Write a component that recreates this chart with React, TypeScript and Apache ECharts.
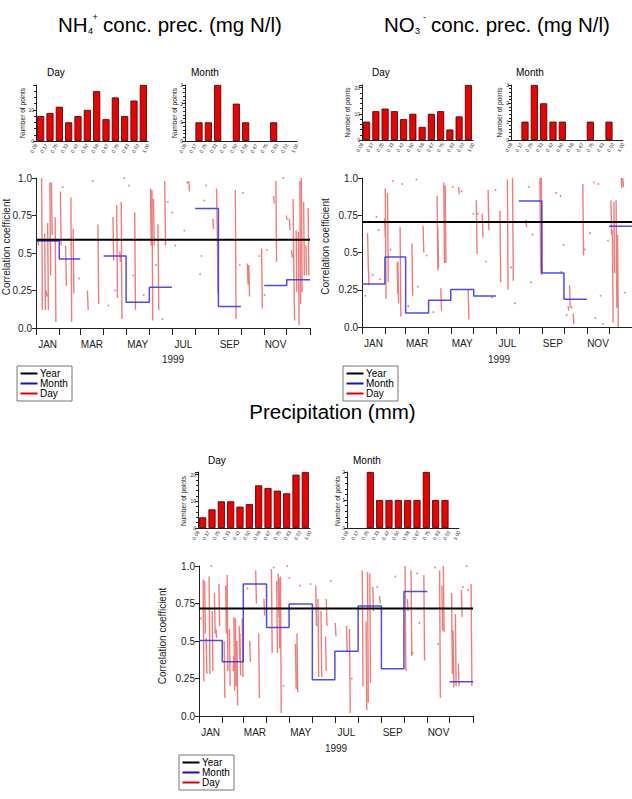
import React, { useEffect, useRef } from "react";
import * as echarts from "echarts";

// ---------- data ----------
const binLabels = ["0.08", "0.17", "0.25", "0.33", "0.42", "0.50", "0.58", "0.67", "0.75", "0.83", "0.92", "1.00"];
const monthNames = ["JAN", "FEB", "MAR", "APR", "MAY", "JUN", "JUL", "AUG", "SEP", "OCT", "NOV", "DEC"];
const monthStarts = [0, 31, 59, 90, 120, 151, 181, 212, 243, 273, 304, 334, 365];

const nh4DayHist = [8, 9, 11, 6, 8, 10, 16, 7, 14, 8, 13, 18];
const nh4MonthHist = [0, 1, 1, 3, 0, 2, 1, 0, 0, 1, 0, 0];
const no3DayHist = [7, 11, 12, 11, 8, 10, 5, 10, 11, 4, 9, 21];
const no3MonthHist = [0, 1, 3, 2, 1, 1, 0, 0, 1, 0, 1, 0];
const precDayHist = [4, 7, 10, 10, 8, 9, 16, 15, 14, 13, 20, 21];
const precMonthHist = [0, 0, 2, 1, 1, 1, 1, 1, 2, 1, 1, 0];

const nh4Year = 0.588;
const no3Year = 0.705;
const precYear = 0.717;

const nh4Month = [0.58, 0.46, null, 0.48, 0.172, 0.272, null, 0.797, 0.143, null, 0.283, 0.321];
const no3Month = [0.289, 0.47, 0.094, 0.18, 0.252, 0.208, null, 0.846, 0.362, 0.186, null, 0.676];
const precMonth = [0.503, 0.361, 0.88, 0.59, 0.747, 0.242, 0.432, 0.734, 0.315, 0.83, null, 0.228];

// daily runs: [firstDay, value, value, ...] consecutive days
const nh4DayRuns = [
  [2, 0.59, 0.55], [7, 1.0, 0.12], [11, 0.63, 0.12], [13, 0.25, 0.21], [15, 0.7, 0.12], [18, 0.97, 0.35],
  [20, 0.97, 0.62], [25, 0.74, 0.04], [32, 0.91, 0.55], [35, 0.94], [39, 0.55, 0.28], [46, 0.87, 0.04],
  [49, 0.66, 0.23], [57, 0.33], [68, 0.25, 0.12], [75, 0.98], [82, 0.69, 0.16], [96, 0.15], [102, 0.74, 0.45],
  [105, 0.25], [107, 0.82, 0.2], [111, 0.51, 0.44], [113, 0.84, 0.06], [117, 1.0], [123, 0.95], [129, 0.35],
  [131, 0.77, 0.12], [143, 0.22], [152, 0.93, 0.55], [154, 0.92, 0.05], [156, 0.86, 0.55], [159, 0.42],
  [162, 0.69, 0.12], [168, 0.06], [171, 0.98, 0.55], [175, 0.84], [181, 0.77], [185, 0.55], [197, 0.65],
  [201, 0.97], [203, 0.98, 0.91], [218, 0.36], [220, 0.48], [224, 0.85], [226, 0.95], [235, 0.73, 0.66],
  [240, 0.93, 0.63, 0.23], [265, 0.92, 0.06], [271, 0.42], [275, 0.9], [281, 0.43, 0.29], [283, 0.42, 0.21],
  [297, 0.48], [300, 0.53, 0.13], [304, 0.22], [307, 0.52], [316, 0.88, 0.83], [319, 0.98, 0.44], [329, 1.0],
  [333, 0.75, 0.72], [337, 0.73, 0.65], [340, 0.52, 0.47], [342, 0.86, 0.35, 0.05], [346, 0.65, 0.24],
  [349, 0.64, 0.02], [351, 0.98, 0.16], [353, 1.0, 0.24], [356, 0.84, 0.35], [359, 0.55, 0.35], [362, 0.8, 0.35],
];

const no3DayRuns = [
  [4, 0.21], [7, 0.63, 0.41, 0.28], [14, 0.35], [19, 0.74], [22, 0.65], [24, 0.32], [30, 0.73, 0.6],
  [31, 0.93, 0.19], [34, 0.9, 0.3], [38, 0.52], [41, 0.98], [47, 0.43, 0.22], [48, 0.44, 0.16], [51, 0.67, 0.07],
  [54, 0.96], [62, 0.14], [67, 0.56, 0.21], [73, 0.99], [75, 0.27], [82, 0.68, 0.5], [87, 0.48], [96, 0.1],
  [101, 0.88, 0.38], [102, 0.67, 0.4], [106, 0.26, 0.11], [110, 0.97, 0.43], [112, 0.95, 0.43], [122, 0.94],
  [130, 0.94, 0.89], [134, 0.91], [143, 0.25, 0.05], [150, 0.76], [154, 0.85, 0.49], [156, 0.76],
  [162, 0.76, 0.6], [167, 0.44], [170, 0.92, 0.65], [175, 0.2], [180, 0.92], [186, 0.78, 0.3], [196, 0.99, 0.25],
  [201, 0.4], [203, 1.0, 0.31], [206, 0.16], [221, 0.72, 0.67], [225, 0.94], [228, 0.3], [230, 0.62],
  [240, 1.0, 0.4, 0.35], [242, 1.0, 0.36], [262, 0.9], [268, 0.88], [269, 0.37], [272, 0.55], [276, 0.08],
  [278, 0.14, 0.11], [280, 0.28, 0.13], [283, 0.13], [285, 0.09, 0.02], [298, 0.96, 0.48], [301, 0.52],
  [308, 0.63], [313, 0.97], [315, 0.06], [319, 0.96], [322, 0.21], [325, 0.02], [332, 0.58], [336, 0.85, 0.62],
  [338, 0.65, 0.03], [340, 0.84, 0.36], [343, 0.85, 0.13], [345, 0.62, 0.0], [350, 1.0, 0.93], [352, 1.0, 0.94],
  [355, 0.23],
];

const precDayRuns = [
  [2, 0.65], [5, 0.91, 0.23], [7, 0.9, 0.55], [9, 0.52, 0.28], [13, 0.93, 0.28], [16, 1.0], [17, 0.7, 0.3],
  [20, 0.82, 0.55], [22, 0.58, 0.52], [26, 0.88, 0.6], [33, 0.5, 0.12], [35, 0.87, 0.55], [37, 0.94, 0.3],
  [40, 0.58, 0.2], [45, 0.3, 0.4], [46, 0.66, 0.17], [48, 0.65, 0.2], [50, 0.5, 0.07], [53, 0.6, 0.37],
  [54, 0.55, 0.27], [57, 0.65, 0.26], [64, 0.85], [67, 0.5, 0.36], [75, 0.97, 0.75], [79, 0.55, 0.12],
  [86, 0.78, 0.67], [96, 0.98, 0.42], [99, 0.99], [103, 0.9, 0.42], [105, 0.95, 0.66], [106, 0.92, 0.45],
  [108, 0.93, 0.02], [112, 0.2], [117, 1.0], [120, 0.92], [128, 0.48, 0.18], [130, 0.55, 0.16], [134, 0.87],
  [148, 0.88], [155, 0.87, 0.6], [158, 0.78, 0.26], [162, 0.7, 0.26], [168, 0.53, 0.3], [169, 0.78, 0.6],
  [175, 0.9], [181, 0.62, 0.53], [196, 0.6, 0.43], [200, 0.58, 0.02], [203, 0.25], [217, 0.97, 0.2],
  [222, 0.63, 0.04], [224, 0.96, 0.09], [227, 0.95, 0.22], [231, 0.86, 0.7], [237, 0.86], [240, 0.8, 0.75],
  [261, 0.93], [274, 1.0, 0.3], [277, 0.78, 0.7], [282, 0.97, 0.4], [284, 0.42], [290, 0.95], [293, 0.62],
  [299, 0.94, 0.37], [314, 0.99], [318, 0.48], [320, 0.97, 0.12], [323, 0.87, 0.57], [325, 1.0, 0.56],
  [336, 0.82, 0.28], [338, 0.57, 0.19], [341, 0.68, 0.2], [345, 0.35, 0.2], [349, 0.84, 0.66], [351, 0.86],
  [356, 1.0], [358, 0.84], [362, 0.88, 0.2],
];

// ---------- helpers ----------
const FONT = "Liberation Sans, Arial, Helvetica, sans-serif";

function runsToLine(runs: number[][]) {
  const out: any[] = [];
  runs.forEach((r) => {
    if (r.length < 3) return;
    for (let i = 1; i < r.length; i++) out.push([r[0] + i - 0.5, r[i]]);
    out.push([r[0] + r.length - 1, "-"]);
  });
  return out;
}
function runsToDots(runs: number[][]) {
  return runs.filter((r) => r.length === 2).map((r) => [r[0] + 0.5, r[1]]);
}
function monthSteps(vals: (number | null)[]) {
  const out: any[] = [];
  vals.forEach((v, i) => {
    if (v == null) {
      out.push([monthStarts[i], "-"]);
      return;
    }
    out.push([monthStarts[i], v], [monthStarts[i + 1], v]);
  });
  return out;
}
const labelDays = [0, 2, 4, 6, 8, 10].map((i) => (monthStarts[i] + monthStarts[i + 1]) / 2);
function monthOfDay(v: number) {
  for (let i = 0; i < 12; i++) if (v >= monthStarts[i] && v < monthStarts[i + 1]) return monthNames[i];
  return "";
}

const panels = [
  {
    dayHist: nh4DayHist, monthHist: nh4MonthHist, year: nh4Year, month: nh4Month, runs: nh4DayRuns,
    dayMax: 18, dayG: { left: 36, top: 85, width: 112, height: 56 },
    monthG: { left: 185, top: 85, width: 112, height: 56 },
    mainG: { left: 36, top: 178, width: 274, height: 150 },
  },
  {
    dayHist: no3DayHist, monthHist: no3MonthHist, year: no3Year, month: no3Month, runs: no3DayRuns,
    dayMax: 21, dayG: { left: 362, top: 85, width: 111, height: 55 },
    monthG: { left: 511, top: 85, width: 112, height: 55 },
    mainG: { left: 362, top: 178, width: 274, height: 149 },
  },
  {
    dayHist: precDayHist, monthHist: precMonthHist, year: precYear, month: precMonth, runs: precDayRuns,
    dayMax: 21, dayG: { left: 198, top: 472, width: 112, height: 56 },
    monthG: { left: 347, top: 472, width: 112, height: 56 },
    mainG: { left: 199, top: 566, width: 274, height: 150 },
  },
];

function buildOption() {
  const grid: any[] = [];
  const xAxis: any[] = [];
  const yAxis: any[] = [];
  const series: any[] = [];
  const axisCol = "#222";

  panels.forEach((p) => {
    // histograms
    [
      { g: p.dayG, data: p.dayHist, max: p.dayMax, interval: 10 },
      { g: p.monthG, data: p.monthHist, max: Math.max(...p.monthHist), interval: 1 },
    ].forEach((h) => {
      const gi = grid.length;
      grid.push({ ...h.g, containLabel: false });
      const xb = xAxis.length;
      xAxis.push({
        type: "category", gridIndex: gi, data: binLabels, boundaryGap: true, position: "bottom",
        axisLine: { show: true, lineStyle: { color: axisCol, width: 1 } },
        axisTick: { show: false }, axisLabel: { show: false }, splitLine: { show: false },
      });
      xAxis.push({
        type: "category", gridIndex: gi, data: binLabels, boundaryGap: false, position: "bottom",
        axisLine: { show: false }, axisTick: { show: false }, splitLine: { show: false },
        axisLabel: { show: true, interval: 0, rotate: 60, fontSize: 5, color: "#333", margin: 3, fontFamily: FONT },
      });
      const yi = yAxis.length;
      yAxis.push({
        type: "value", gridIndex: gi, min: 0, max: h.max, interval: h.interval,
        axisLine: { show: true, lineStyle: { color: axisCol, width: 1 } },
        axisTick: { show: true, length: 3, lineStyle: { color: axisCol } },
        minorTick: { show: true, splitNumber: 5, length: 2, lineStyle: { color: axisCol } },
        splitLine: { show: false },
        axisLabel: {
          fontSize: 5, color: "#333", margin: 2, fontFamily: FONT,
          formatter: (v: number) => (v % h.interval === 0 ? String(v) : ""),
        },
      });
      series.push({
        type: "bar", xAxisIndex: xb, yAxisIndex: yi,
        data: h.data.map((v) => (v > 0 ? v : "-")),
        barCategoryGap: "24%",
        itemStyle: { color: "#ee0000", borderColor: "#3a0000", borderWidth: 0.8 },
        silent: true,
      });
    });

    // main chart
    const gi = grid.length;
    grid.push({ ...p.mainG, containLabel: false });
    const xi = xAxis.length;
    xAxis.push({
      type: "value", gridIndex: gi, min: 0, max: 365, position: "bottom",
      axisLine: { show: true, lineStyle: { color: axisCol, width: 1 } },
      axisTick: { show: true, length: 7, customValues: monthStarts, lineStyle: { color: axisCol } },
      axisLabel: {
        show: true, customValues: labelDays, formatter: (v: number) => monthOfDay(v),
        fontSize: 10, color: "#222", margin: 11, fontFamily: FONT,
      },
      splitLine: { show: false },
    });
    const yi = yAxis.length;
    yAxis.push({
      type: "value", gridIndex: gi, min: 0, max: 1, interval: 0.25,
      axisLine: { show: true, lineStyle: { color: axisCol, width: 1 } },
      axisTick: { show: true, length: 4, lineStyle: { color: axisCol } },
      splitLine: { show: false },
      axisLabel: {
        fontSize: 10, color: "#222", margin: 4, fontFamily: FONT,
        formatter: (v: number) => (v === 0 ? "0.0" : v === 1 ? "1.0" : String(v)),
      },
    });
    series.push({
      type: "line", name: "Day", xAxisIndex: xi, yAxisIndex: yi, data: runsToLine(p.runs),
      showSymbol: false, symbol: "none", connectNulls: false, silent: true, z: 2,
      lineStyle: { color: "#e81010", width: 1.4, opacity: 0.55 },
    });
    series.push({
      type: "scatter", name: "Day", xAxisIndex: xi, yAxisIndex: yi, data: runsToDots(p.runs),
      symbolSize: 1.8, silent: true, z: 2,
      itemStyle: { color: "#e81010", opacity: 0.55 },
    });
    series.push({
      type: "line", name: "Month", xAxisIndex: xi, yAxisIndex: yi, data: monthSteps(p.month),
      showSymbol: false, symbol: "none", connectNulls: false, silent: true, z: 3,
      lineStyle: { color: "#3a3ae6", width: 1.5, opacity: 0.9 },
    });
    series.push({
      type: "line", name: "Year", xAxisIndex: xi, yAxisIndex: yi, data: [[0, p.year], [365, p.year]],
      showSymbol: false, symbol: "none", silent: true, z: 4,
      lineStyle: { color: "#000", width: 2 },
    });
  });

  const t = (text: string, x: number, y: number, size: number, extra: any = {}) => ({
    type: "text", x, y, silent: true, ...extra,
    style: { text, fontSize: size, fontFamily: FONT, fill: "#000", align: "left", verticalAlign: "middle", ...(extra.style || {}) },
  });
  const vt = (text: string, x: number, y: number, size: number) => ({
    type: "text", x, y, rotation: Math.PI / 2, silent: true,
    style: { text, fontSize: size, fontFamily: FONT, fill: "#222", align: "center", verticalAlign: "middle" },
  });
  const legend = (x0: number, y0: number) => ({
    type: "group", x: x0, y: y0, silent: true,
    children: [
      { type: "rect", shape: { x: 0, y: 0, width: 55, height: 35 }, style: { fill: "#fff", stroke: "#777", lineWidth: 1 } },
      { type: "line", shape: { x1: 3.5, y1: 7.5, x2: 20.5, y2: 7.5 }, style: { stroke: "#000", lineWidth: 2 } },
      { type: "line", shape: { x1: 3.5, y1: 17.5, x2: 20.5, y2: 17.5 }, style: { stroke: "#1010d8", lineWidth: 2 } },
      { type: "line", shape: { x1: 3.5, y1: 27.5, x2: 20.5, y2: 27.5 }, style: { stroke: "#e00000", lineWidth: 2 } },
      { type: "text", x: 23, y: 7.5, style: { text: "Year", fontSize: 10, fontFamily: FONT, fill: "#000", verticalAlign: "middle" } },
      { type: "text", x: 23, y: 17.5, style: { text: "Month", fontSize: 10, fontFamily: FONT, fill: "#000", verticalAlign: "middle" } },
      { type: "text", x: 23, y: 27.5, style: { text: "Day", fontSize: 10, fontFamily: FONT, fill: "#000", verticalAlign: "middle" } },
    ],
  });

  const graphic: any[] = [
    // titles
    t("NH", 58, 24, 20.5),
    t("4", 88, 31, 9),
    t("+", 92.5, 17, 9),
    t("conc. prec. (mg N/l)", 103, 24, 20.5),
    t("NO", 384, 24, 20.5),
    t("3", 415, 31, 9),
    t("-", 423, 17, 9),
    t("conc. prec. (mg N/l)", 431, 24, 20.5),
    t("Precipitation (mm)", 332.5, 411, 20.5, { style: { align: "center" } }),
    // hist labels
    t("Day", 47, 72.5, 10),
    t("Month", 191, 72.5, 10),
    t("Day", 372, 72.5, 10),
    t("Month", 516, 72.5, 10),
    t("Day", 208, 460, 10),
    t("Month", 353, 460, 10),
    vt("Number of points", 22, 113, 6.6),
    vt("Number of points", 174, 113, 6.6),
    vt("Number of points", 347, 112.5, 6.6),
    vt("Number of points", 499, 112.5, 6.6),
    vt("Number of points", 183, 501, 6.6),
    vt("Number of points", 337, 501, 6.6),
    vt("Correlation coefficient", 6, 247, 10),
    vt("Correlation coefficient", 325, 246.5, 10),
    vt("Correlation coefficient", 162, 636, 10),
    t("1999", 173, 359, 10, { style: { align: "center", fill: "#222" } }),
    t("1999", 499, 359, 10, { style: { align: "center", fill: "#222" } }),
    t("1999", 336, 748, 10, { style: { align: "center", fill: "#222" } }),
    legend(17, 366),
    legend(343, 366),
    legend(179, 755),
  ];

  return { animation: false, backgroundColor: "#fff", grid, xAxis, yAxis, series, graphic };
}

export default function App() {
  const ref = useRef<HTMLDivElement>(null);
  useEffect(() => {
    if (!ref.current) return;
    const chart = echarts.init(ref.current, undefined, { renderer: "svg" });
    chart.setOption(buildOption() as any);
    return () => chart.dispose();
  }, []);
  return <div ref={ref} style={{ position: "absolute", left: 0, top: 0, width: 632, height: 799, background: "#fff" }} />;
}
